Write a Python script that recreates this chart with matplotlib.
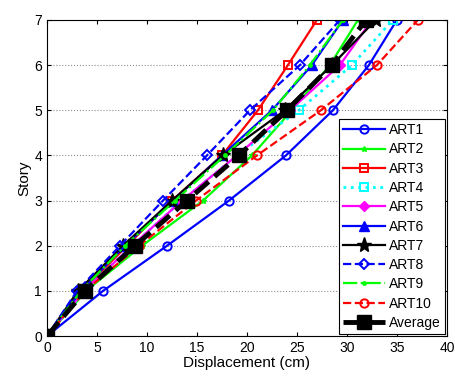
import matplotlib
matplotlib.use('Agg')
import matplotlib.pyplot as plt

plt.rcParams['font.family'] = ['Liberation Sans', 'DejaVu Sans']

# story levels and displacement per record (cm)
stories = [0, 1, 2, 3, 4, 5, 6, 7]
art1 = [0, 5.6, 12.0, 18.2, 23.9, 28.6, 32.2, 35.0]
art2 = [0, 3.9, 9.5, 15.6, 20.5, 24.5, 28.3, 31.1]
art3 = [0, 3.5, 8.0, 12.5, 17.5, 21.1, 24.1, 27.0]
art4 = [0, 3.7, 8.5, 13.5, 19.0, 25.2, 30.5, 34.6]
art5 = [0, 3.7, 8.5, 13.5, 19.0, 24.3, 29.3, 32.5]
art6 = [0, 3.4, 7.8, 12.6, 17.5, 22.5, 26.5, 29.6]
art7 = [0, 3.1, 7.6, 12.5, 17.6, 23.8, 28.5, 32.9]
art8 = [0, 3.0, 7.3, 11.6, 16.0, 20.3, 25.3, 29.3]
art9 = [0, 3.4, 7.8, 12.8, 17.8, 22.6, 26.3, 29.6]
art10 = [0, 3.8, 9.2, 14.9, 21.0, 27.4, 33.0, 37.1]
average = [0, 3.8, 8.8, 14.0, 19.2, 24.0, 28.5, 31.9]

fig = plt.figure(figsize=(4.56, 3.76), dpi=100)
ax = fig.add_axes([0.103, 0.106, 0.877, 0.841])

lw = 1.6
ax.plot(art1, stories, color='#0000ff', ls='-', lw=lw, marker='o', ms=6, mfc='none', mew=1.4, label='ART1')
ax.plot(art2, stories, color='#00ff00', ls='-', lw=lw, marker='*', ms=4, mew=1, label='ART2')
ax.plot(art3, stories, color='#ff0000', ls='-', lw=lw, marker='s', ms=6, mfc='none', mew=1.4, label='ART3')
ax.plot(art4, stories, color='#00ffff', ls=':', lw=2, marker='s', ms=6, mfc='none', mew=1.4, label='ART4')
ax.plot(art5, stories, color='#ff00ff', ls='-', lw=lw, marker='D', ms=5, label='ART5')
ax.plot(art6, stories, color='#0000ff', ls='-', lw=lw, marker='^', ms=7, label='ART6')
ax.plot(art7, stories, color='black', ls='-', lw=lw, marker='*', ms=11, label='ART7')
ax.plot(art8, stories, color='#0000ff', ls='--', lw=lw, marker='D', ms=5, mfc='none', mew=1.4, label='ART8')
ax.plot(art9, stories, color='#00ff00', ls='-.', lw=lw, marker='.', ms=5, label='ART9')
ax.plot(art10, stories, color='#ff0000', ls='--', lw=lw, marker='o', ms=6, mfc='none', mew=1.4, label='ART10')
ax.plot(average, stories, color='black', ls='--', lw=3.5, marker='s', ms=10, label='Average')

ax.set_xlim(0, 40)
ax.set_ylim(0, 7)
ax.set_xticks(range(0, 41, 5))
ax.set_yticks(range(0, 8))
ax.yaxis.grid(True, color='#909090', ls=':', lw=0.8)
ax.tick_params(direction='in', labelsize=10, top=True, right=True, length=3)
ax.set_xlabel('Displacement (cm)', fontsize=11, labelpad=1)
ax.set_ylabel('Story', fontsize=11, labelpad=2)

leg = ax.legend(loc='lower right', fontsize=10, handlelength=3.0, labelspacing=0.38,
                borderpad=0.3, handletextpad=0.3, fancybox=False, framealpha=1,
                borderaxespad=0.15)
leg.get_frame().set_edgecolor('black')
leg.get_frame().set_linewidth(0.8)

plt.savefig('out.png', dpi=100)
